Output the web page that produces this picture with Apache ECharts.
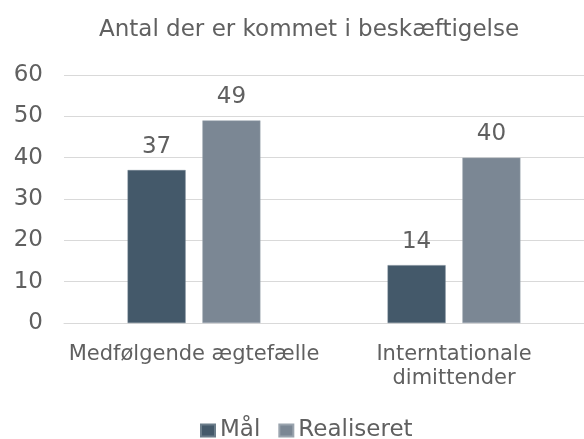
<!DOCTYPE html>
<html>
<head>
<meta charset="utf-8">
<script src="https://cdn.jsdelivr.net/npm/echarts@6/dist/echarts.min.js"></script>
<style>
  html, body { margin: 0; padding: 0; background: #fff; }
  #main { width: 584px; height: 439px; }
</style>
</head>
<body>
<div id="main"></div>
<script>
var categories = ['Medfølgende ægtefælle', 'Interntationale\ndimittender'];
var maal = [37, 14];
var realiseret = [49, 40];
var seriesNames = ['Mål', 'Realiseret'];

var chart = echarts.init(document.getElementById('main'));
var textColor = '#606060';
var font = 'DejaVu Sans';

var option = {
  backgroundColor: '#ffffff',
  animation: false,
  title: {
    text: 'Antal der er kommet i beskæftigelse',
    left: 94,
    top: 14,
    textStyle: { color: textColor, fontFamily: font, fontSize: 23, fontWeight: 'normal' }
  },
  legend: {
    data: seriesNames,
    top: 414,
    left: 195,
    icon: 'rect',
    itemWidth: 14,
    itemHeight: 12,
    itemGap: 18,
    textStyle: { color: textColor, fontFamily: font, fontSize: 23 }
  },
  grid: { left: 64, right: -4, top: 75, bottom: 116 },
  xAxis: {
    type: 'category',
    data: categories,
    axisLine: { show: true, lineStyle: { color: '#d9d9d9' } },
    axisTick: { show: false },
    axisLabel: { color: textColor, fontFamily: font, fontSize: 21, margin: 20, lineHeight: 24, interval: 0 }
  },
  yAxis: {
    type: 'value',
    min: 0,
    max: 60,
    interval: 10,
    axisLine: { show: false },
    axisTick: { show: false },
    splitLine: { lineStyle: { color: '#d9d9d9', width: 1 } },
    axisLabel: { color: textColor, fontFamily: font, fontSize: 23, margin: 21 }
  },
  series: [
    {
      name: seriesNames[0],
      type: 'bar',
      data: maal,
      barWidth: 58,
      barGap: '29%',
      itemStyle: { color: '#44596a', borderColor: '#6b7d8a', borderWidth: 0.5 },
      label: { show: true, position: 'top', distance: 12, color: textColor, fontFamily: font, fontSize: 23 }
    },
    {
      name: seriesNames[1],
      type: 'bar',
      data: realiseret,
      barWidth: 58,
      itemStyle: { color: '#7b8794', borderColor: '#9aa4ae', borderWidth: 0.5 },
      label: { show: true, position: 'top', distance: 12, color: textColor, fontFamily: font, fontSize: 23 }
    }
  ]
};
chart.setOption(option);
</script>
</body>
</html>
